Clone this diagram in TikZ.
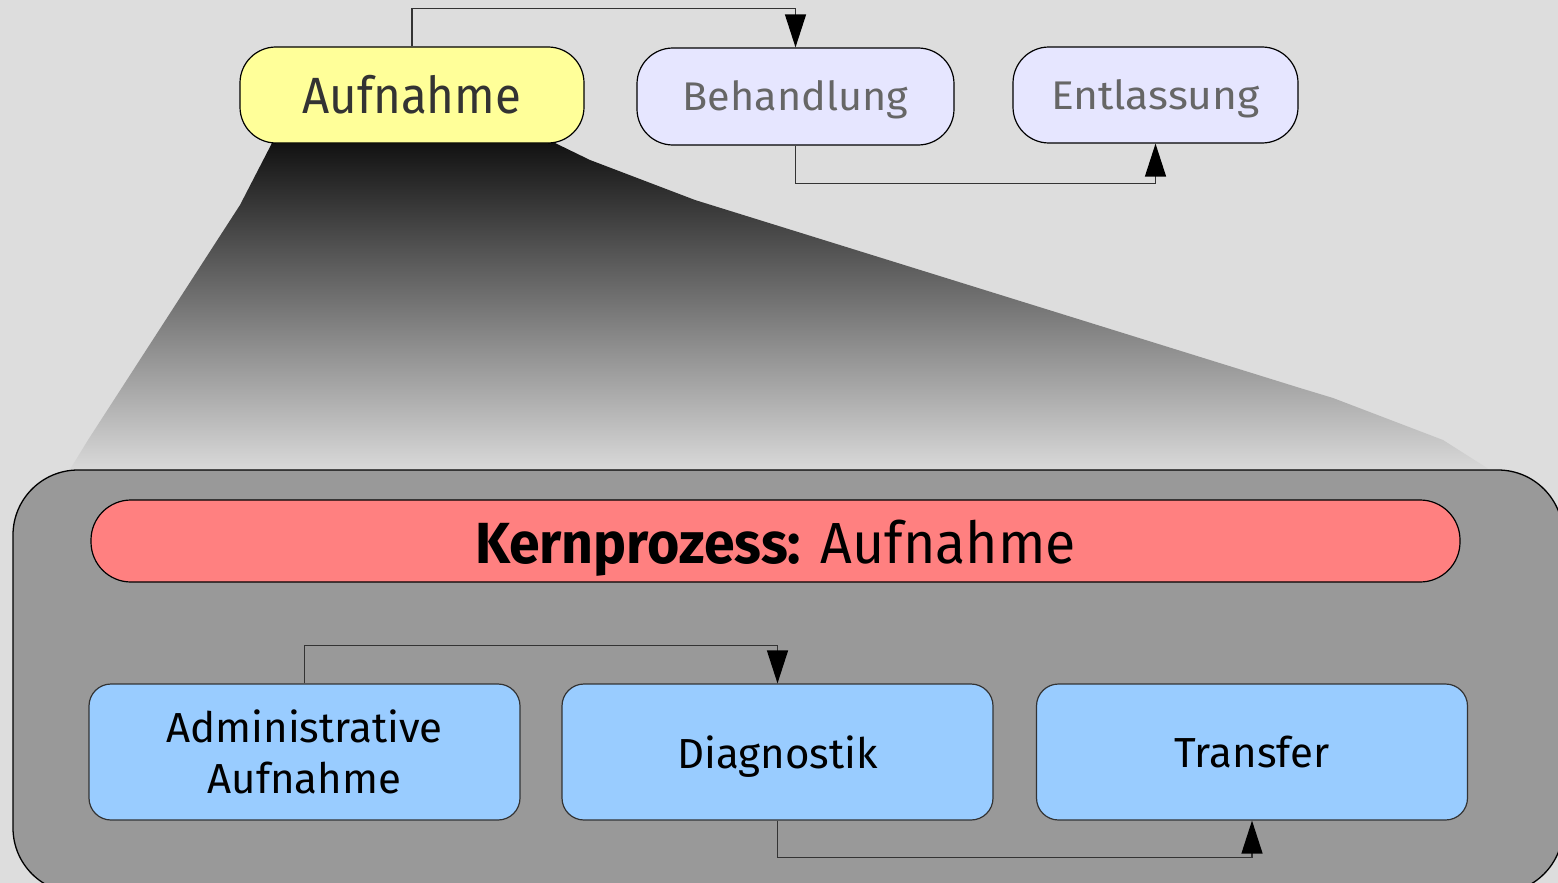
\documentclass[tikz,border=0pt]{standalone}
\usepackage{fontspec}
\setmainfont{Fira Sans}
\usetikzlibrary{arrows.meta}
\definecolor{bg}{HTML}{DDDDDD}
\definecolor{topfill}{HTML}{FFFF99}
\definecolor{lilac}{HTML}{E6E6FF}
\definecolor{bigfill}{HTML}{999999}
\definecolor{redbar}{HTML}{FF8080}
\definecolor{bluefill}{HTML}{99CCFF}
\definecolor{conn}{HTML}{333333}
\tikzset{
  topbox/.style={draw=black, line width=1.2pt, rounded corners=36pt, inner sep=0pt, text depth=0pt},
  subbox/.style={draw=black!80, line width=1.2pt, rounded corners=22pt, fill=bluefill,
    minimum width=431pt, minimum height=136pt, inner sep=0pt, align=center,
    font=\fontsize{42}{51}\selectfont},
  flow/.style={draw=conn, line width=1.3pt, -{Triangle[length=33pt,width=21pt,color=black]}},
}
\begin{document}
\begin{tikzpicture}[x=1pt,y=-1pt]
\useasboundingbox (0,0) rectangle (1558,883);
\fill[bg] (0,0) rectangle (1558,883);
% funnel
\shade[top color=black!93, bottom color=bg]
  (272,143) -- (240,205) -- (88,440) -- (66,476) -- (1492,476) -- (1487,468)
  -- (1443,440) -- (1333,398) -- (1300,388) -- (695,200) -- (590,160) -- (555,143) -- cycle;
% big container
\node[draw=black, line width=1.3pt, fill=bigfill, rounded corners=65pt,
  minimum width=1550pt, minimum height=423pt, inner sep=0pt] (big) at (788,681.5) {};
% top boxes
\node[topbox, fill=topfill, minimum width=344pt, minimum height=96pt, text height=36pt,
  text=conn, font=\fontsize{51}{60}\selectfont] (auf) at (412,95) {\scalebox{0.93}[1]{Aufnahme}};
\node[topbox, fill=lilac, minimum width=317pt, minimum height=97pt, text height=28pt,
  text=black!60, font=\fontsize{40}{48}\selectfont] (beh) at (795.5,96.5) {\scalebox{1.035}[1]{Behandlung}};
\node[topbox, fill=lilac, minimum width=285pt, minimum height=96pt, text height=29pt,
  text=black!60, font=\fontsize{40}{48}\selectfont] (ent) at (1155.5,95) {\scalebox{1.065}[1]{Entlassung}};
% red bar
\node[draw=black, line width=1.2pt, fill=redbar, rounded corners=40pt,
  minimum width=1369pt, minimum height=82pt, inner sep=0pt, text height=44pt, text depth=0pt,
  font=\fontsize{58}{66}\selectfont] (kern) at (775.5,541) {\scalebox{0.955}[1]{\textbf{Kernprozess:} Aufnahme}};
% sub boxes
\node[subbox] (adm) at (304.5,752) {Administrative\\Aufnahme};
\node[subbox, text height=32pt, text depth=0pt] (dia) at (777.5,752) {Diagnostik};
\node[subbox, text height=30pt, text depth=0pt] (tra) at (1252,752) {Transfer};
% connectors
\draw[flow] (auf.north) -- ++(0,-38) -| (beh.north);
\draw[flow] (beh.south) -- ++(0,38) -| (ent.south);
\draw[flow] (adm.north) -- ++(0,-38) -| (dia.north);
\draw[flow] (dia.south) -- ++(0,37) -| (tra.south);
\end{tikzpicture}
\end{document}
